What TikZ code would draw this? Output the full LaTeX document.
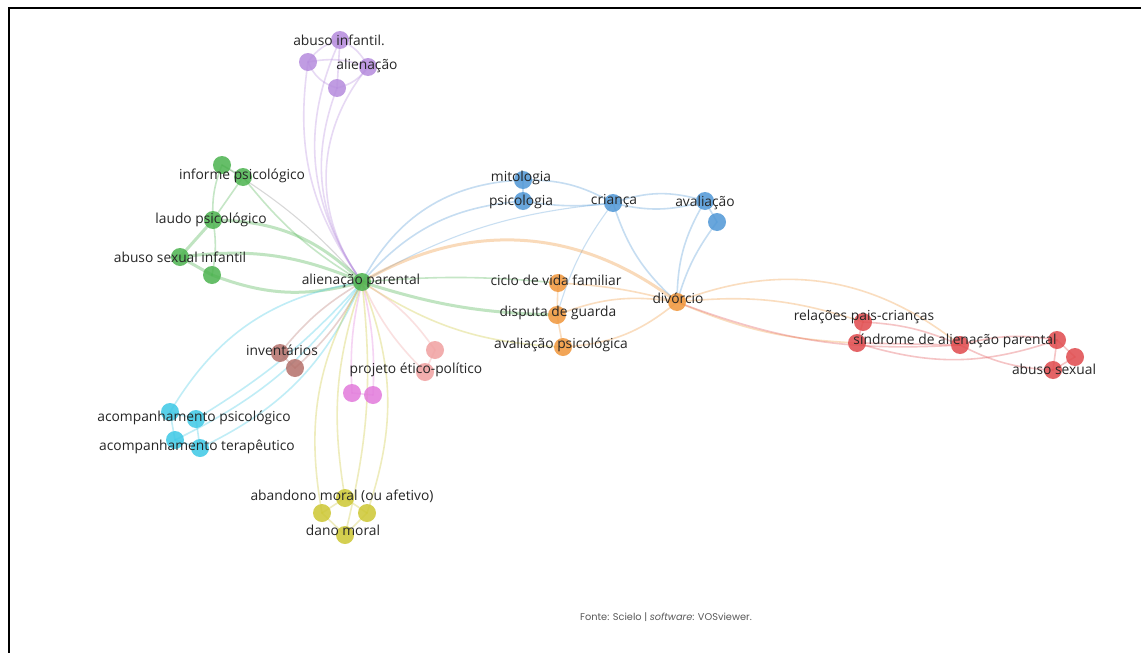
\documentclass[tikz,border=0pt]{standalone}
\usepackage{fontspec}
\setmainfont{Open Sans}
\newfontfamily\footfont{Poppins}
\definecolor{cgreen}{HTML}{4CB34F}
\definecolor{cpurple}{HTML}{B58BDD}
\definecolor{cblue}{HTML}{4F97D6}
\definecolor{corange}{HTML}{F0963A}
\definecolor{cred}{HTML}{E04A4D}
\definecolor{ccyan}{HTML}{3CC8E6}
\definecolor{cyellow}{HTML}{CDC733}
\definecolor{cbrown}{HTML}{B4706A}
\definecolor{cpink}{HTML}{E27ADB}
\definecolor{csalmon}{HTML}{F0A0A0}
\definecolor{ctext}{HTML}{262626}
\begin{document}
\begin{tikzpicture}[x=1pt,y=-1pt,
  dot/.style={circle,fill=#1,fill opacity=0.85,draw=none,minimum size=18pt,inner sep=0pt},
  lab/.style={text=ctext,font=\fontsize{13.8}{15}\selectfont,inner sep=0pt},
  e/.style={draw=#1,line width=1.6pt,opacity=0.32,line cap=round},
  ethin/.style={draw=#1,line width=1.1pt,opacity=0.3,line cap=round},
  ethick/.style={draw=#1,line width=3pt,opacity=0.35,line cap=round}]
\useasboundingbox (0,0) rectangle (1141,653);
\fill[white] (0,0) rectangle (1141,653);
% nodes positions (coordinates first)
\coordinate (p1) at (340,40);
\coordinate (p2) at (308,62);
\coordinate (p3) at (368,67);
\coordinate (p4) at (337,88);
\coordinate (g1) at (222,165);
\coordinate (g2) at (243,177);
\coordinate (g3) at (213,220);
\coordinate (g4) at (180,257);
\coordinate (g5) at (212,275);
\coordinate (g6) at (362,282);
\coordinate (b1) at (523,180);
\coordinate (b2) at (523,201);
\coordinate (b3) at (613,203);
\coordinate (b4) at (705,201);
\coordinate (b5) at (717,222);
\coordinate (o1) at (558,283);
\coordinate (o2) at (557,315);
\coordinate (o3) at (563,347);
\coordinate (o4) at (677,302);
\coordinate (s1) at (435,350);
\coordinate (s2) at (425,372);
\coordinate (br1) at (280,353);
\coordinate (br2) at (295,368);
\coordinate (m1) at (352,393);
\coordinate (m2) at (373,395);
\coordinate (c1) at (170,412);
\coordinate (c2) at (196,419);
\coordinate (c3) at (175,440);
\coordinate (c4) at (200,448);
\coordinate (y1) at (345,498);
\coordinate (y2) at (322,513);
\coordinate (y3) at (367,513);
\coordinate (y4) at (345,535);
\coordinate (r1) at (863,322);
\coordinate (r2) at (857,343);
\coordinate (r3) at (960,345);
\coordinate (r4) at (1057,340);
\coordinate (r5) at (1075,357);
\coordinate (r6) at (1053,370);
% ---- edges ----
% purple
\draw[e=cpurple] (p1) to[bend right=30] (g6);
\draw[e=cpurple] (p2) to[bend right=22] (g6);
\draw[e=cpurple] (p3) to[bend right=38] (g6);
\draw[e=cpurple] (p4) to[bend right=28] (g6);
\draw[e=cpurple] (p2) to[bend left=20] (p1);
\draw[e=cpurple] (p1) to[bend left=20] (p3);
\draw[e=cpurple] (p2) to[bend left=15] (p3);
\draw[e=cpurple] (p2) to[bend right=25] (p4);
\draw[e=cpurple] (p4) to[bend right=20] (p3);
\draw[e=cpurple] (p1) to (p4);
% green
\draw[ethin=gray] (g1) to[bend left=8] (g6);
\draw[e=cgreen] (g2) to[bend right=10] (g6);
\draw[ethick=cgreen] (g3) to[bend left=22] (g6);
\draw[ethick=cgreen] (g4) to[bend left=15] (g6);
\draw[ethick=cgreen] (g5) to[bend right=18] (g6);
\draw[e=cgreen] (g1) -- (g2);
\draw[e=cgreen] (g1) to[bend right=12] (g3);
\draw[e=cgreen] (g2) -- (g3);
\draw[ethick=cgreen] (g3) -- (g4);
\draw[e=cgreen] (g3) to[bend left=10] (g5);
\draw[ethick=cgreen] (g4) -- (g5);
% blue
\draw[e=cblue] (g6) to[bend left=30] (b1);
\draw[e=cblue] (g6) to[bend left=22] (b2);
\draw[ethin=cblue] (g6) to[bend left=12] (b3);
\draw[e=cblue] (b1) to[bend left=15] (b3);
\draw[e=cblue] (b2) to[bend right=8] (b3);
\draw[e=cblue] (b1) -- (b2);
\draw[e=cblue] (b3) to[bend left=18] (b4);
\draw[e=cblue] (b3) to[bend right=15] (b4);
\draw[e=cblue] (b4) -- (b5);
\draw[e=cblue] (b3) to[bend right=15] (o4);
\draw[e=cblue] (b4) to[bend right=15] (o4);
\draw[e=cblue] (b5) to[bend right=10] (o4);
\draw[ethin=cblue] (b3) to[bend right=10] (o2);
% orange
\draw[ethick=corange] (g6) to[bend left=34] (o4);
\draw[e=cgreen] (g6) to[bend left=5] (o1);
\draw[ethick=cgreen] (g6) to[bend right=8] (o2);
\draw[e=cyellow] (g6) to[bend right=15] (o3);
\draw[e=corange] (o1) -- (o2);
\draw[e=corange] (o2) -- (o3);
\draw[e=corange] (o1) to[bend left=6] (o4);
\draw[e=corange] (o2) to[bend left=15] (o4);
\draw[e=corange] (o3) to[bend right=18] (o4);
% red
\draw[e=corange] (o4) to[bend left=30] (r3);
\draw[e=corange] (o4) to[bend left=12] (r1);
\draw[e=corange] (o4) to[bend right=10] (r2);
\draw[e=cred] (o4) to[bend right=12] (r3);
\draw[e=cred] (r1) to[bend left=10] (r3);
\draw[e=cred] (r2) -- (r3);
\draw[e=cred] (r1) -- (r2);
\draw[e=cred] (r3) to[bend left=12] (r4);
\draw[e=cred] (r3) to[bend right=12] (r6);
\draw[e=cred] (r2) to[bend right=18] (r4);
\draw[e=cred] (r4) -- (r5);
\draw[e=cred] (r5) -- (r6);
\draw[e=cred] (r4) -- (r6);
% brown, salmon, pink
\draw[e=cbrown] (g6) to[bend right=10] (br1);
\draw[e=cbrown] (g6) to[bend left=10] (br2);
\draw[e=cbrown] (br1) -- (br2);
\draw[e=csalmon] (g6) to[bend left=12] (s1);
\draw[e=csalmon] (g6) to[bend right=10] (s2);
\draw[e=csalmon] (s1) -- (s2);
\draw[e=cpink] (g6) to[bend right=8] (m1);
\draw[e=cpink] (g6) to[bend left=8] (m2);
\draw[e=cpink] (m1) -- (m2);
% cyan
\draw[e=ccyan] (c1) to[bend left=25] (g6);
\draw[e=ccyan] (c2) to[bend right=8] (g6);
\draw[e=ccyan] (c3) to[bend right=14] (g6);
\draw[e=ccyan] (c4) to[bend right=20] (g6);
\draw[e=ccyan] (c1) -- (c2);
\draw[e=ccyan] (c1) -- (c3);
\draw[e=ccyan] (c2) -- (c4);
\draw[e=ccyan] (c3) -- (c4);
% yellow
\draw[e=cyellow] (y1) to[bend left=14] (g6);
\draw[e=cyellow] (y2) to[bend left=20] (g6);
\draw[e=cyellow] (y3) to[bend right=20] (g6);
\draw[e=cyellow] (y4) to[bend right=10] (g6);
\draw[e=cyellow] (y1) -- (y2);
\draw[e=cyellow] (y1) -- (y3);
\draw[e=cyellow] (y2) -- (y4);
\draw[e=cyellow] (y3) -- (y4);
% ---- node dots ----
\foreach \n in {p1,p2,p3,p4} \node[dot=cpurple] (d\n) at (\n) {};
\foreach \n in {g1,g2,g3,g4,g5,g6} \node[dot=cgreen] (d\n) at (\n) {};
\foreach \n in {b1,b2,b3,b4,b5} \node[dot=cblue] (d\n) at (\n) {};
\foreach \n in {o1,o2,o3,o4} \node[dot=corange] (d\n) at (\n) {};
\foreach \n in {r1,r2,r3,r4,r5,r6} \node[dot=cred] (d\n) at (\n) {};
\foreach \n in {s1,s2} \node[dot=csalmon] (d\n) at (\n) {};
\foreach \n in {br1,br2} \node[dot=cbrown] (d\n) at (\n) {};
\foreach \n in {m1,m2} \node[dot=cpink] (d\n) at (\n) {};
\foreach \n in {c1,c2,c3,c4} \node[dot=ccyan] (d\n) at (\n) {};
\foreach \n in {y1,y2,y3,y4} \node[dot=cyellow] (d\n) at (\n) {};
% ---- labels ----
\node[lab] (t1) at (339,40) {abuso infantil.};
\node[lab] (t2) at (367,66) {alienação};
\node[lab] (t3) at (242,176) {informe psicológico};
\node[lab] (t4) at (211,220) {laudo psicológico};
\node[lab] (t5) at (180,257) {abuso sexual infantil};
\node[lab] (t6) at (361,281) {alienação parental};
\node[lab] (t7) at (521,178) {mitologia};
\node[lab] (t8) at (521,202) {psicologia};
\node[lab] (t9) at (614,201) {criança};
\node[lab] (t10) at (705,203) {avaliação};
\node[lab] (t11) at (556,280) {ciclo de vida familiar};
\node[lab] (t12) at (558,313) {disputa de guarda};
\node[lab] (t13) at (561,345) {avaliação psicológica};
\node[lab] (t14) at (678,298) {divórcio};
\node[lab] (t15) at (864,317) {relações pais-crianças};
\node[lab] (t16) at (955,341) {síndrome de alienação parental};
\node[lab] (t17) at (1054,369) {abuso sexual};
\node[lab] (t18) at (282,350) {inventários};
\node[lab] (t19) at (416,370) {projeto ético-político};
\node[lab] (t20) at (194,418) {acompanhamento psicológico};
\node[lab] (t21) at (197,447) {acompanhamento terapêutico};
\node[lab] (t22) at (342,496) {abandono moral (ou afetivo)};
\node[lab] (t23) at (343,530) {dano moral};
% footer
\node[text=black!65,font=\footfont\fontsize{9.8}{11}\selectfont,inner sep=0pt] (foot) at (666,617) {Fonte: Scielo | \textit{software}: VOSviewer.};
% frame
\draw[line width=2.5pt] (9,653) -- (9,8) -- (1141,8);
\end{tikzpicture}
\end{document}
